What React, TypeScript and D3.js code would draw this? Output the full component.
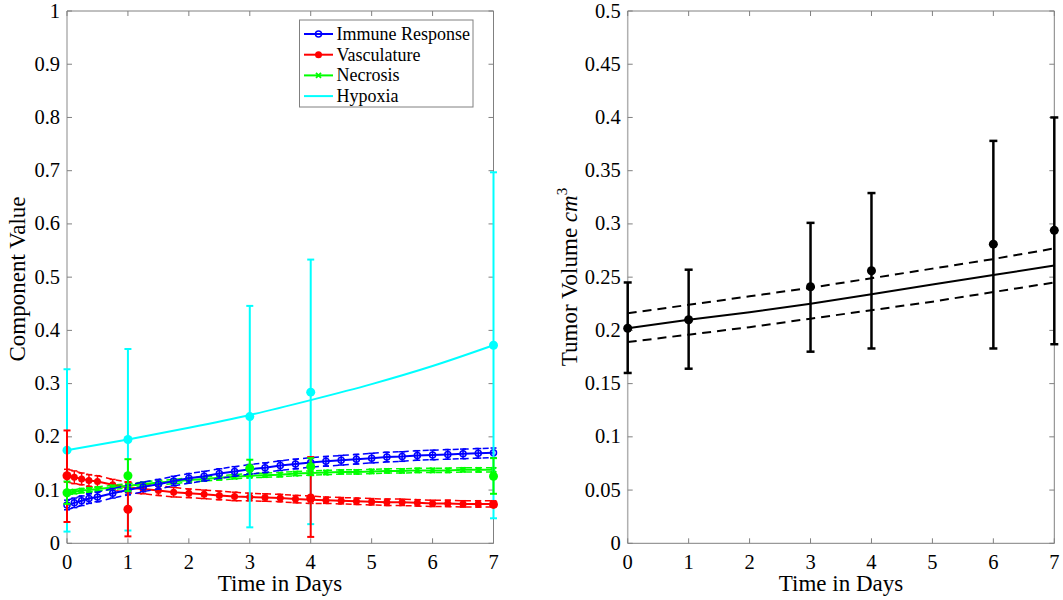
import * as d3 from 'd3'

// model output times (days)
const modelT = [0, 0.12, 0.24, 0.36, 0.5, 0.75, 1, 1.25, 1.5, 1.75, 2, 2.25, 2.5, 2.75, 3, 3.25, 3.5, 3.75, 4, 4.25, 4.5, 4.75, 5, 5.25, 5.5, 5.75, 6, 6.25, 6.5, 6.75, 7]

const immuneMean = [0.072, 0.076, 0.080, 0.084, 0.087, 0.094, 0.100, 0.106, 0.111, 0.117, 0.122, 0.126, 0.131, 0.135, 0.139, 0.142, 0.146, 0.149, 0.152, 0.154, 0.156, 0.158, 0.160, 0.162, 0.163, 0.165, 0.166, 0.167, 0.168, 0.169, 0.170]
const immuneHalf = [0.009, 0.009, 0.009, 0.009, 0.009, 0.009, 0.009, 0.009, 0.009, 0.009, 0.009, 0.009, 0.009, 0.009, 0.009, 0.009, 0.009, 0.009, 0.009, 0.009, 0.009, 0.009, 0.009, 0.009, 0.009, 0.009, 0.009, 0.009, 0.009, 0.009, 0.009]

const vascMean = [0.127, 0.124, 0.121, 0.118, 0.116, 0.110, 0.105, 0.102, 0.099, 0.096, 0.094, 0.092, 0.090, 0.088, 0.087, 0.086, 0.085, 0.083, 0.082, 0.081, 0.080, 0.079, 0.078, 0.077, 0.077, 0.076, 0.075, 0.075, 0.074, 0.074, 0.074]
const vascHalf = [0.012, 0.012, 0.011, 0.011, 0.011, 0.010, 0.010, 0.009, 0.009, 0.009, 0.008, 0.008, 0.008, 0.008, 0.007, 0.007, 0.007, 0.007, 0.007, 0.006, 0.006, 0.006, 0.006, 0.006, 0.006, 0.006, 0.006, 0.006, 0.006, 0.006, 0.006]

const necMean = [0.095, 0.097, 0.099, 0.100, 0.102, 0.105, 0.108, 0.111, 0.114, 0.116, 0.119, 0.121, 0.123, 0.125, 0.127, 0.128, 0.129, 0.131, 0.132, 0.133, 0.134, 0.134, 0.135, 0.136, 0.136, 0.137, 0.137, 0.137, 0.138, 0.138, 0.138]
const necHalf = [0.004, 0.004, 0.004, 0.004, 0.004, 0.004, 0.004, 0.004, 0.004, 0.004, 0.004, 0.004, 0.004, 0.004, 0.004, 0.004, 0.004, 0.004, 0.004, 0.004, 0.004, 0.004, 0.004, 0.004, 0.004, 0.004, 0.004, 0.004, 0.004, 0.004, 0.004]

const hypoxiaT = [0, 1, 2, 3, 4, 5, 6, 7]
const hypoxiaMean = [0.175, 0.195, 0.217, 0.241, 0.269, 0.299, 0.333, 0.372]

// observed data (left)
const obsDays = [0, 1, 3, 4, 7]
const hypoxiaObs = [0.175, 0.195, 0.238, 0.284, 0.372]
const hypoxiaLo = [0.022, 0.024, 0.030, 0.036, 0.047]
const hypoxiaHi = [0.327, 0.365, 0.446, 0.533, 0.697]

const vascDays = [0, 1, 4, 7]
const vascObs = [0.127, 0.064, 0.085, 0.073]
const vascLo = [0.040, 0.013, 0.012, 0.070]
const vascHi = [0.212, 0.115, 0.162, 0.077]

const necObs = [0.095, 0.127, 0.141, 0.144, 0.126]
const necLo = [0.074, 0.098, 0.126, 0.128, 0.093]
const necHi = [0.116, 0.158, 0.157, 0.160, 0.160]

// right plot
const volDays = [0, 1, 3, 4, 6, 7]
const volObs = [0.202, 0.210, 0.241, 0.256, 0.281, 0.294]
const volLo = [0.160, 0.164, 0.180, 0.183, 0.183, 0.187]
const volHi = [0.245, 0.257, 0.301, 0.329, 0.378, 0.400]

const fitT = [0, 1, 2, 3, 4, 5, 6, 7]
const fitMean = [0.202, 0.210, 0.217, 0.225, 0.234, 0.243, 0.252, 0.261]
const fitUpper = [0.216, 0.224, 0.232, 0.240, 0.249, 0.258, 0.267, 0.277]
const fitLower = [0.189, 0.196, 0.203, 0.211, 0.219, 0.227, 0.236, 0.245]

const leftTicksY = d3.range(0, 11).map(i => i / 10)
const rightTicksY = d3.range(0, 11).map(i => i / 20)
const xTicks = [0, 1, 2, 3, 4, 5, 6, 7]

const BLUE = '#0000ff'
const RED = '#ff0000'
const GREEN = '#00ff00'
const CYAN = '#00ffff'
const FONT = '"Liberation Serif", "Times New Roman", serif'

const TOP = 11
const BOTTOM = 543.3

function ErrBar({ x, lo, hi, color, cap = 3.5, sw = 2 }) {
  return (
    <g stroke={color} strokeWidth={sw}>
      <line x1={x} x2={x} y1={lo} y2={hi} />
      <line x1={x - cap} x2={x + cap} y1={lo} y2={lo} />
      <line x1={x - cap} x2={x + cap} y1={hi} y2={hi} />
    </g>
  )
}

function Frame({ x, y, ticksY, fmt }) {
  const [x0, x1] = x.range()
  return (
    <g fontFamily={FONT} fontSize={20.5} fill="#000">
      <line x1={x0} x2={x0} y1={TOP} y2={BOTTOM} stroke="#b0b0b0" strokeWidth={1.5} />
      <line x1={x0} x2={x1} y1={BOTTOM} y2={BOTTOM} stroke="#808080" />
      <line x1={x0} x2={x1} y1={TOP} y2={TOP} stroke="#808080" />
      <line x1={x1} x2={x1} y1={TOP} y2={BOTTOM} stroke="#808080" />
      {ticksY.map(t => (
        <g key={t}>
          <line x1={x0} x2={x0 + 5} y1={y(t)} y2={y(t)} stroke="#808080" />
          <line x1={x1} x2={x1 - 5} y1={y(t)} y2={y(t)} stroke="#808080" />
          <text x={x0 - 7} y={y(t) + 6.5} textAnchor="end">{fmt(t)}</text>
        </g>
      ))}
      {xTicks.map(t => (
        <g key={t}>
          <line x1={x(t)} x2={x(t)} y1={BOTTOM} y2={BOTTOM - 5} stroke="#808080" />
          <line x1={x(t)} x2={x(t)} y1={TOP} y2={TOP + 5} stroke="#808080" />
          <text x={x(t)} y={568.5} textAnchor="middle">{t}</text>
        </g>
      ))}
    </g>
  )
}

function Marker({ type, cx, cy, color }) {
  if (type === 'o') return <circle cx={cx} cy={cy} r={3} fill="none" stroke={color} strokeWidth={1.5} />
  if (type === 'dot') return <circle cx={cx} cy={cy} r={3.5} fill={color} />
  if (type === 'x') return (
    <g stroke={color} strokeWidth={1.8}>
      <line x1={cx - 2.5} x2={cx + 2.5} y1={cy - 2.5} y2={cy + 2.5} />
      <line x1={cx - 2.5} x2={cx + 2.5} y1={cy + 2.5} y2={cy - 2.5} />
    </g>
  )
  return null
}

function ModelSeries({ x, y, mean, half, color, marker }) {
  const pts = modelT.map((t, i) => ({ t, m: mean[i], lo: mean[i] - half[i], hi: mean[i] + half[i] }))
  const line = d3.line().x(d => x(d.t)).y(d => y(d.v))
  const up = line(pts.map(p => ({ t: p.t, v: p.hi })))
  const dn = line(pts.map(p => ({ t: p.t, v: p.lo })))
  const mid = line(pts.map(p => ({ t: p.t, v: p.m })))
  return (
    <g>
      <path d={up} fill="none" stroke={color} strokeWidth={1.5} strokeDasharray="6,4" />
      <path d={dn} fill="none" stroke={color} strokeWidth={1.5} strokeDasharray="6,4" />
      {pts.map((p, i) => (
        <ErrBar key={i} x={x(p.t)} lo={y(p.lo)} hi={y(p.hi)} color={color} cap={3} sw={1.5} />
      ))}
      <path d={mid} fill="none" stroke={color} strokeWidth={2} />
      {pts.map((p, i) => (
        <Marker key={i} type={marker} cx={x(p.t)} cy={y(p.m)} color={color} />
      ))}
    </g>
  )
}

function LeftChart() {
  const x = d3.scaleLinear().domain([0, 7]).range([67, 493.5])
  const y = d3.scaleLinear().domain([0, 1]).range([BOTTOM, TOP])
  const hypLine = d3.line().x((d, i) => x(hypoxiaT[i])).y(d => y(d)).curve(d3.curveMonotoneX)

  const legend = [
    { label: 'Immune Response', color: BLUE, marker: 'o' },
    { label: 'Vasculature', color: RED, marker: 'dot' },
    { label: 'Necrosis', color: GREEN, marker: 'x' },
    { label: 'Hypoxia', color: CYAN, marker: null }
  ]

  return (
    <g>
      <Frame x={x} y={y} ticksY={leftTicksY} fmt={d3.format('~g')} />

      <ModelSeries x={x} y={y} mean={vascMean} half={vascHalf} color={RED} marker="dot" />
      <ModelSeries x={x} y={y} mean={necMean} half={necHalf} color={GREEN} marker="x" />
      <ModelSeries x={x} y={y} mean={immuneMean} half={immuneHalf} color={BLUE} marker="o" />

      <path d={hypLine(hypoxiaMean)} fill="none" stroke={CYAN} strokeWidth={2} />

      {obsDays.map((d, i) => (
        <g key={`h${d}`}>
          <ErrBar x={x(d)} lo={y(hypoxiaLo[i])} hi={y(hypoxiaHi[i])} color={CYAN} />
          <circle cx={x(d)} cy={y(hypoxiaObs[i])} r={4.5} fill={CYAN} />
        </g>
      ))}
      {vascDays.map((d, i) => (
        <g key={`v${d}`}>
          <ErrBar x={x(d)} lo={y(vascLo[i])} hi={y(vascHi[i])} color={RED} />
          <circle cx={x(d)} cy={y(vascObs[i])} r={4.5} fill={RED} />
        </g>
      ))}
      {obsDays.map((d, i) => (
        <g key={`n${d}`}>
          <ErrBar x={x(d)} lo={y(necLo[i])} hi={y(necHi[i])} color={GREEN} />
          <circle cx={x(d)} cy={y(necObs[i])} r={4.5} fill={GREEN} />
        </g>
      ))}

      <g fontFamily={FONT}>
        <rect x={299.5} y={20} width={173.5} height={87} fill="#fff" stroke="#808080" />
        {legend.map((l, i) => {
          const ly = 34 + i * 20.7
          return (
            <g key={l.label}>
              <line x1={304} x2={333} y1={ly} y2={ly} stroke={l.color} strokeWidth={2} />
              {l.marker && <Marker type={l.marker} cx={318.5} cy={ly} color={l.color} />}
              <text x={336.5} y={ly + 6} fontSize={18}>{l.label}</text>
            </g>
          )
        })}
      </g>

      <text x={280} y={590.5} fontFamily={FONT} fontSize={23} textAnchor="middle">Time in Days</text>
      <text transform="translate(25,279) rotate(-90)" fontFamily={FONT} fontSize={23} textAnchor="middle">Component Value</text>
    </g>
  )
}

function RightChart() {
  const x = d3.scaleLinear().domain([0, 7]).range([627.7, 1054.3])
  const y = d3.scaleLinear().domain([0, 0.5]).range([BOTTOM, TOP])
  const line = d3.line().x((d, i) => x(fitT[i])).y(d => y(d))

  return (
    <g>
      <Frame x={x} y={y} ticksY={rightTicksY} fmt={d3.format('~g')} />
      <path d={line(fitUpper)} fill="none" stroke="#000" strokeWidth={2} strokeDasharray="9,6" />
      <path d={line(fitLower)} fill="none" stroke="#000" strokeWidth={2} strokeDasharray="9,6" />
      <path d={line(fitMean)} fill="none" stroke="#000" strokeWidth={2} />
      {volDays.map((d, i) => (
        <g key={d}>
          <ErrBar x={x(d)} lo={y(volLo[i])} hi={y(volHi[i])} color="#000" cap={4} sw={2.5} />
          <circle cx={x(d)} cy={y(volObs[i])} r={4.5} fill="#000" />
        </g>
      ))}
      <text x={841} y={590.5} fontFamily={FONT} fontSize={23} textAnchor="middle">Time in Days</text>
      <text transform="translate(577,277) rotate(-90)" fontFamily={FONT} fontSize={23} textAnchor="middle">
        Tumor Volume <tspan fontStyle="italic">cm</tspan>
        <tspan fontSize={15} dy={-10}>3</tspan>
      </text>
    </g>
  )
}

export default function App() {
  return (
    <svg width={1063} height={600} style={{ position: 'absolute', left: 0, top: 0, background: '#fff' }}>
      <rect width={1063} height={600} fill="#fff" />
      <LeftChart />
      <RightChart />
    </svg>
  )
}
